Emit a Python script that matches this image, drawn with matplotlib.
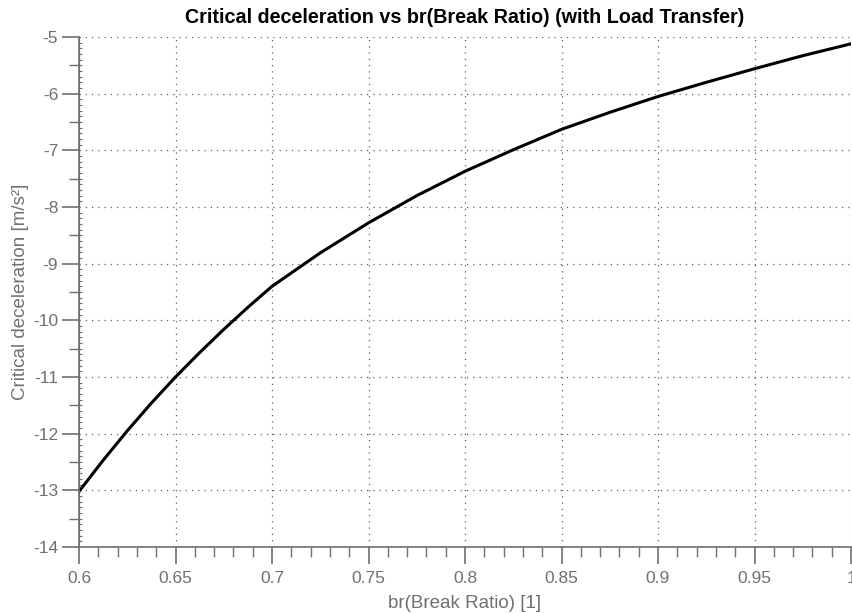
import matplotlib.pyplot as plt
from matplotlib.ticker import MultipleLocator, FixedLocator

plt.rcParams['font.family'] = ['Liberation Sans', 'DejaVu Sans']
plt.rcParams['axes.unicode_minus'] = False

# Data
break_ratio = [0.6, 0.6125, 0.625, 0.6375, 0.65, 0.6625, 0.675, 0.6875, 0.7,
               0.725, 0.75, 0.775, 0.8, 0.825, 0.85, 0.875, 0.9, 0.925, 0.95, 0.975, 1.0]
critical_decel = [-13.02, -12.47, -11.95, -11.46, -11.00, -10.57, -10.16, -9.77, -9.40,
                  -8.81, -8.28, -7.80, -7.37, -6.99, -6.63, -6.33, -6.05, -5.80, -5.56, -5.33, -5.12]

grey = '#707070'

fig = plt.figure(figsize=(8.52, 6.13), dpi=100)
ax = fig.add_axes([79 / 852, 1 - 547 / 613, 772 / 852, 510 / 613])

ax.plot(break_ratio, critical_decel, color='black', linewidth=2.2)

ax.set_xlim(0.6, 1.0)
ax.set_ylim(-14, -5)

ax.xaxis.set_minor_locator(MultipleLocator(0.01))
ax.yaxis.set_major_locator(MultipleLocator(1))
ax.yaxis.set_minor_locator(MultipleLocator(0.1))
ax.set_xticks([0.6, 0.65, 0.7, 0.75, 0.8, 0.85, 0.9, 0.95, 1.0])
ax.set_xticklabels(['0.6', '0.65', '0.7', '0.75', '0.8', '0.85', '0.9', '0.95', '1'])

ax.tick_params(axis='x', which='major', length=12, width=1.2, color=grey,
               labelcolor=grey, labelsize=12.5, pad=5)
ax.tick_params(axis='x', which='minor', length=7, width=1.0, color=grey)
ax.tick_params(axis='y', which='major', length=12, width=1.2, color=grey,
               labelcolor=grey, labelsize=12.5, pad=3)
ax.tick_params(axis='y', which='minor', direction='in', length=2, width=0.8, color=grey)

# half-unit ticks on the left, pointing out
sec = ax.secondary_yaxis('left')
sec.yaxis.set_major_locator(FixedLocator([-13.5, -12.5, -11.5, -10.5, -9.5, -8.5, -7.5, -6.5, -5.5]))
sec.tick_params(length=7, width=1.0, color=grey, labelleft=False)
sec.spines['left'].set_color(grey)

for side in ['top', 'right']:
    ax.spines[side].set_visible(False)
for side in ['left', 'bottom']:
    ax.spines[side].set_color(grey)
    ax.spines[side].set_linewidth(1.2)

ax.grid(True, which='major', color='#606060', linestyle=(0, (1, 4)), linewidth=0.9)

ax.set_title('Critical deceleration vs br(Break Ratio) (with Load Transfer)',
             fontsize=14.2, fontweight='bold', color='black', pad=10)
ax.set_xlabel('br(Break Ratio) [1]', fontsize=13.5, color=grey, labelpad=7)
ax.set_ylabel('Critical deceleration [m/s²]', fontsize=13.5, color=grey, labelpad=3)

fig.savefig('out.png', dpi=100)
